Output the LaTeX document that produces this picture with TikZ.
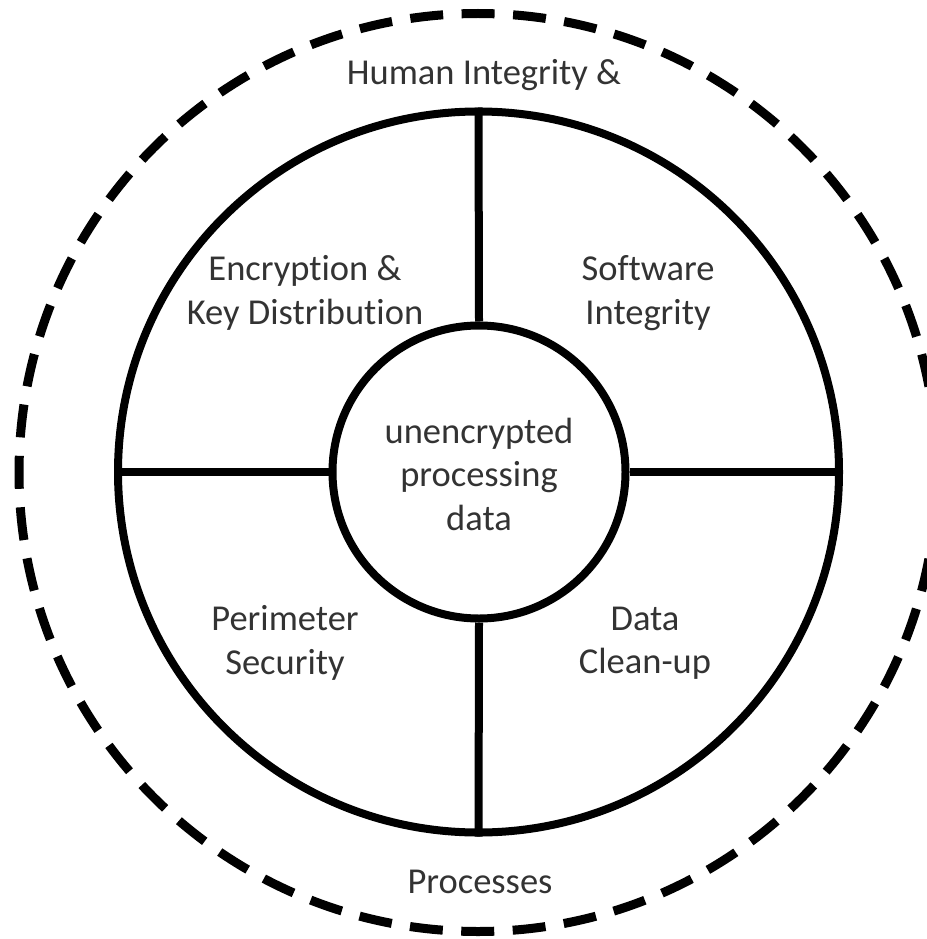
\documentclass[tikz,border=0pt]{standalone}
\usepackage{fontspec}
\setmainfont{Carlito}[Ligatures=NoCommon]
\usepackage{xcolor}
\usepackage{tikz}

\tikzset{
  ring/.style={circle, draw, line width=8pt, inner sep=0pt},
  spoke/.style={line width=8pt},
  label/.style={align=center, text=black!80, font=\fontsize{36.5}{43.5}\selectfont}
}

\begin{document}
\begin{tikzpicture}[x=1pt, y=-1pt]
    \useasboundingbox (0, 0) rectangle (926, 939);
    \node (outer) at (478, 472.5) [circle, draw, inner sep=0pt, minimum size=918pt, line width=9pt,
        dash pattern=on 33pt off 18.5pt, dash phase=16.5pt] {};
    \node (mid) at (478.5, 472) [ring, minimum size=721pt] {};
    \node (core) at (479, 472) [ring, minimum size=293pt] {};
    \node (coretext) at (479, 474) [label] {unencrypted\\processing\\data};

    \draw[spoke] (core.north) -- (mid.north);
    \draw[spoke] (core.south) -- (mid.south);
    \draw[spoke] (core.west) -- (mid.west);
    \draw[spoke] (core.east) -- (mid.east);

    \node (human) at (484, 75) [label] {Human Integrity \&};
    \node (procs) at (480, 882) [label] {Processes};
    \node (crypt) at (305, 293) [label] {Encryption \&\\Key Distribution};
    \node (soft) at (648, 293) [label] {Software\\Integrity};
    \node (perim) at (285, 643) [label] {Perimeter\\Security};
    \node (clean) at (645, 643) [label] {Data\\Clean-up};
\end{tikzpicture}
\end{document}
